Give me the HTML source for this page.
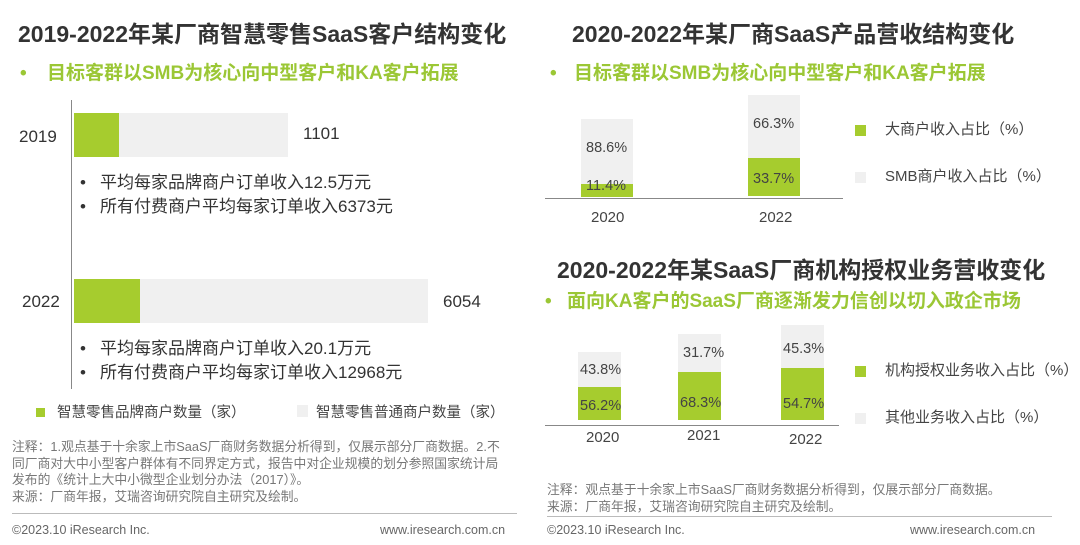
<!DOCTYPE html>
<html><head><meta charset="utf-8"><style>
body{margin:0;width:1080px;height:545px;background:#fff;position:relative;overflow:hidden;font-family:"Liberation Sans","Noto Sans CJK SC",sans-serif;color:#404040}
div{position:absolute;white-space:nowrap}
.t{font-size:23px;font-weight:bold;color:#333;line-height:26px}
.s{font-size:19px;font-weight:bold;color:#9bc735;line-height:22px}
.g{background:#a6cc2e}
.l{background:#f0f0f0}
.n{font-size:17px;color:#333;line-height:20px}
.p{font-size:14.5px;color:#444;line-height:18px}
.q{font-size:15px;color:#444;line-height:18px}
.note{font-size:12.8px;color:#777;line-height:16.5px}
.f{font-size:12.5px;color:#666}
.ax{background:#888}
</style></head><body>
<!-- left -->
<div class="t" style="left:18px;top:21px">2019-2022年某厂商智慧零售SaaS客户结构变化</div>
<div class="s" style="left:20px;top:63px">•</div>
<div class="s" style="left:47px;top:63px">目标客群以SMB为核心向中型客户和KA客户拓展</div>
<div class="ax" style="left:71px;top:100px;width:1px;height:289px"></div>
<div class="n" style="left:19px;top:127px">2019</div>
<div class="l" style="left:74px;top:113px;width:214px;height:44px"></div>
<div class="g" style="left:74px;top:113px;width:45px;height:44px"></div>
<div class="n" style="left:303px;top:124px">1101</div>
<div class="n" style="left:80px;top:173px">•</div>
<div class="n" style="left:100px;top:173px">平均每家品牌商户订单收入12.5万元</div>
<div class="n" style="left:80px;top:197px">•</div>
<div class="n" style="left:100px;top:197px">所有付费商户平均每家订单收入6373元</div>
<div class="n" style="left:22px;top:292px">2022</div>
<div class="l" style="left:74px;top:279px;width:354px;height:44px"></div>
<div class="g" style="left:74px;top:279px;width:66px;height:44px"></div>
<div class="n" style="left:443px;top:292px">6054</div>
<div class="n" style="left:80px;top:339px">•</div>
<div class="n" style="left:100px;top:339px">平均每家品牌商户订单收入20.1万元</div>
<div class="n" style="left:80px;top:363px">•</div>
<div class="n" style="left:100px;top:363px">所有付费商户平均每家订单收入12968元</div>
<div class="g" style="left:36px;top:408px;width:9px;height:9px"></div>
<div class="p" style="left:57px;top:404px">智慧零售品牌商户数量（家）</div>
<div class="l" style="left:297px;top:405px;width:11px;height:12px"></div>
<div class="p" style="left:316px;top:404px">智慧零售普通商户数量（家）</div>
<div class="note" style="left:12px;top:439px">注释：1.观点基于十余家上市SaaS厂商财务数据分析得到，仅展示部分厂商数据。2.不<br>同厂商对大中小型客户群体有不同界定方式，报告中对企业规模的划分参照国家统计局<br>发布的《统计上大中小微型企业划分办法（2017）》。<br>来源：厂商年报，艾瑞咨询研究院自主研究及绘制。</div>
<div style="left:12px;top:513px;width:505px;height:1px;background:#bbb"></div>
<div class="f" style="left:12px;top:523px">©2023.10 iResearch Inc.</div>
<div class="f" style="left:380px;top:523px">www.iresearch.com.cn</div>
<!-- right top -->
<div class="t" style="left:572px;top:21px">2020-2022年某厂商SaaS产品营收结构变化</div>
<div class="s" style="left:550px;top:63px">•</div>
<div class="s" style="left:574px;top:63px">目标客群以SMB为核心向中型客户和KA客户拓展</div>
<div class="l" style="left:581px;top:119px;width:52px;height:78px"></div>
<div class="g" style="left:581px;top:184px;width:52px;height:13px"></div>
<div class="p" style="left:586px;top:139px">88.6%</div>
<div class="p" style="left:586px;top:177px">11.4%</div>
<div class="l" style="left:748px;top:95px;width:52px;height:101px"></div>
<div class="g" style="left:748px;top:158px;width:52px;height:38px"></div>
<div class="p" style="left:753px;top:115px">66.3%</div>
<div class="p" style="left:753px;top:170px">33.7%</div>
<div class="ax" style="left:545px;top:198px;width:298px;height:1px"></div>
<div class="q" style="left:591px;top:209px">2020</div>
<div class="q" style="left:759px;top:209px">2022</div>
<div class="g" style="left:855px;top:125px;width:11px;height:11px"></div>
<div class="q" style="left:885px;top:121px">大商户收入占比（%）</div>
<div class="l" style="left:855px;top:172px;width:11px;height:11px"></div>
<div class="q" style="left:885px;top:168px">SMB商户收入占比（%）</div>
<!-- right bottom -->
<div class="t" style="left:557px;top:257px">2020-2022年某SaaS厂商机构授权业务营收变化</div>
<div class="s" style="left:545px;top:291px">•</div>
<div class="s" style="left:567px;top:291px">面向KA客户的SaaS厂商逐渐发力信创以切入政企市场</div>
<div class="l" style="left:578px;top:352px;width:43px;height:68px"></div>
<div class="g" style="left:578px;top:387px;width:43px;height:33px"></div>
<div class="p" style="left:580px;top:361px">43.8%</div>
<div class="p" style="left:580px;top:397px">56.2%</div>
<div class="l" style="left:678px;top:334px;width:43px;height:86px"></div>
<div class="g" style="left:678px;top:372px;width:43px;height:48px"></div>
<div class="p" style="left:683px;top:344px">31.7%</div>
<div class="p" style="left:680px;top:394px">68.3%</div>
<div class="l" style="left:781px;top:325px;width:43px;height:95px"></div>
<div class="g" style="left:781px;top:368px;width:43px;height:52px"></div>
<div class="p" style="left:783px;top:340px">45.3%</div>
<div class="p" style="left:783px;top:395px">54.7%</div>
<div class="ax" style="left:545px;top:425px;width:294px;height:1px"></div>
<div class="q" style="left:586px;top:429px">2020</div>
<div class="q" style="left:687px;top:427px">2021</div>
<div class="q" style="left:789px;top:431px">2022</div>
<div class="g" style="left:855px;top:366px;width:11px;height:11px"></div>
<div class="q" style="left:885px;top:362px">机构授权业务收入占比（%）</div>
<div class="l" style="left:855px;top:413px;width:11px;height:11px"></div>
<div class="q" style="left:885px;top:409px">其他业务收入占比（%）</div>
<div class="note" style="left:547px;top:482px">注释：观点基于十余家上市SaaS厂商财务数据分析得到，仅展示部分厂商数据。<br>来源：厂商年报，艾瑞咨询研究院自主研究及绘制。</div>
<div style="left:547px;top:516px;width:505px;height:1px;background:#bbb"></div>
<div class="f" style="left:547px;top:523px">©2023.10 iResearch Inc.</div>
<div class="f" style="left:910px;top:523px">www.iresearch.com.cn</div>
</body></html>
